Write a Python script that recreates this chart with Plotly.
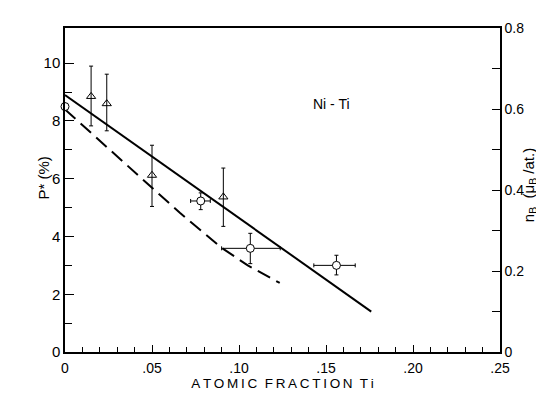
import plotly.graph_objects as go

# Triangles (with vertical error bars)
tri_x = [0.015, 0.024, 0.050, 0.091]
tri_y = [8.85, 8.60, 6.12, 5.37]
tri_err_plus = [1.05, 1.02, 1.04, 1.00]
tri_err_minus = [1.02, 0.94, 1.08, 1.02]

# Circles
circ0_x = [0.0]
circ0_y = [8.5]
circ_x = [0.078, 0.1065, 0.156]
circ_y = [5.23, 3.59, 3.00]
circ_yerr_plus = [0.28, 0.52, 0.35]
circ_yerr_minus = [0.30, 0.53, 0.33]
circ_xerr_plus = [0.0055, 0.0172, 0.0108]
circ_xerr_minus = [0.0058, 0.0165, 0.0130]

# Curves
solid_x = [0.0, 0.176]
solid_y = [8.9, 1.4]
dash_x = [0.0, 0.036, 0.066, 0.090, 0.105, 0.1234]
dash_y = [8.4, 6.44, 4.82, 3.61, 3.00, 2.39]

x_tickvals = [0, 0.05, 0.10, 0.15, 0.20, 0.25]
x_ticktext = ["0", ".05", ".10", ".15", ".20", ".25"]
yl_tickvals = [0, 2, 4, 6, 8, 10]
yr_tickvals = [0, 0.2, 0.4, 0.6, 0.8]
yr_ticktext = ["0", "0.2", "0.4", "0.6", "0.8"]

FONT = "Liberation Sans, Arial, sans-serif"

fig = go.Figure()

fig.add_trace(go.Scatter(x=solid_x, y=solid_y, mode="lines",
                         line=dict(color="black", width=2), hoverinfo="skip"))
fig.add_trace(go.Scatter(x=dash_x, y=dash_y, mode="lines",
                         line=dict(color="black", width=2, dash="14px,7px"), hoverinfo="skip"))

fig.add_trace(go.Scatter(
    x=tri_x, y=tri_y, mode="markers",
    marker=dict(symbol="triangle-up-open", size=8, color="black", line=dict(width=1, color="black")),
    error_y=dict(type="data", symmetric=False, array=tri_err_plus, arrayminus=tri_err_minus,
                 color="black", thickness=1, width=2),
))

fig.add_trace(go.Scatter(
    x=circ_x, y=circ_y, mode="markers",
    marker=dict(symbol="circle", size=8, color="white", line=dict(width=1, color="black")),
    error_y=dict(type="data", symmetric=False, array=circ_yerr_plus, arrayminus=circ_yerr_minus,
                 color="black", thickness=1, width=2),
    error_x=dict(type="data", symmetric=False, array=circ_xerr_plus, arrayminus=circ_xerr_minus,
                 color="black", thickness=1, width=2),
))

fig.add_trace(go.Scatter(
    x=circ0_x, y=circ0_y, mode="markers", cliponaxis=False,
    marker=dict(symbol="circle", size=8, color="white", line=dict(width=1, color="black")),
))

# invisible trace to activate right axis
fig.add_trace(go.Scatter(x=[0.1], y=[0.1], yaxis="y2", mode="markers",
                         marker=dict(opacity=0), hoverinfo="skip"))

spaced = "\u2009".join("ATOMIC") + "  " + "\u2009".join("FRACTION") + "  " + "\u2009".join("Ti")

fig.update_layout(
    width=544, height=393,
    margin=dict(l=57, r=52, t=15, b=39),
    paper_bgcolor="white", plot_bgcolor="white",
    showlegend=False,
    font=dict(family=FONT, color="black", size=14),
    xaxis=dict(
        range=[0, 0.25], showgrid=False, zeroline=False,
        showline=True, linecolor="black", linewidth=1.5, mirror=True,
        ticks="inside", ticklen=7, tickwidth=1, tickcolor="black",
        tickvals=x_tickvals, ticktext=x_ticktext,
        tickfont=dict(size=14), ticklabelstandoff=2,
        minor=dict(ticks="inside", ticklen=5, tickcolor="black", tickwidth=1, dtick=0.01, tick0=0),
        title=dict(text=spaced, font=dict(size=13.5), standoff=4),
    ),
    yaxis=dict(
        range=[0, 11.22], showgrid=False, zeroline=False,
        showline=True, linecolor="black", linewidth=1.5,
        ticks="inside", ticklen=9, tickwidth=1, tickcolor="black",
        tickvals=yl_tickvals, tickfont=dict(size=15),
        minor=dict(ticks="inside", ticklen=7, tickcolor="black", tickwidth=1,
                   tickvals=[1, 3, 5, 7, 9]),
    ),
    yaxis2=dict(
        overlaying="y", side="right", range=[0, 0.8],
        showgrid=False, zeroline=False,
        showline=True, linecolor="black", linewidth=1.5,
        ticks="inside", ticklen=8, tickwidth=1, tickcolor="black",
        tickvals=yr_tickvals, ticktext=yr_ticktext, tickfont=dict(size=14),
        minor=dict(ticks="inside", ticklen=8, tickcolor="black", tickwidth=1,
                   tickvals=[0.1, 0.3, 0.5, 0.7]),
    ),
    annotations=[
        dict(x=0.153, y=8.6, xref="x", yref="y", text="Ni - Ti", showarrow=False,
             font=dict(size=14, family=FONT)),
        dict(x=-0.0736, y=0.537, xref="paper", yref="paper", text="P* (%)",
             textangle=-90, showarrow=False, font=dict(size=15, family=FONT)),
        dict(x=1.094, y=0.516, xref="paper", yref="paper",
             text="n<sub>B</sub>  (μ<sub>B</sub> /at.)",
             textangle=-90, showarrow=False, font=dict(size=15, family=FONT)),
    ],
)

fig.write_html("out.html")
